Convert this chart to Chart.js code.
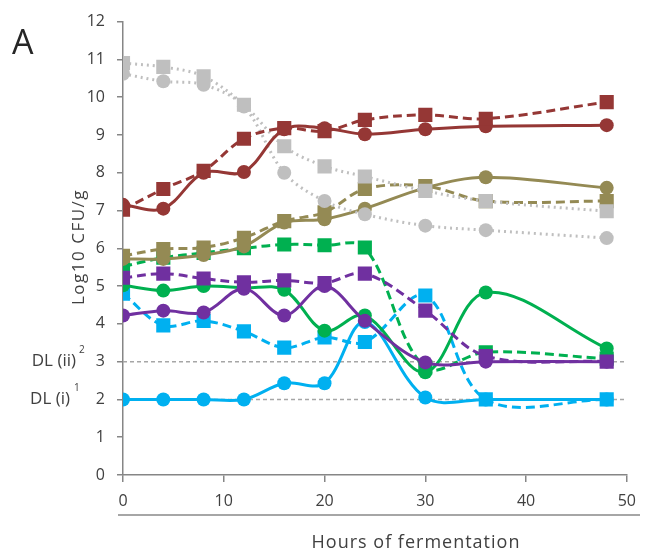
<!DOCTYPE html>
<html>
<head>
<meta charset="utf-8">
<script src="https://cdn.jsdelivr.net/npm/chart.js@4/dist/chart.umd.min.js"></script>
<style>
  html, body { margin: 0; padding: 0; background: #fff; }
  #wrap { width: 646px; height: 557px; position: relative; }
</style>
</head>
<body>
<div id="wrap"><canvas id="grafico" width="646" height="557"></canvas></div>
<script>
// horas de fermentação
const hours = [0, 4, 8, 12, 16, 20, 24, 30, 36, 48];

// Log10 CFU/g por série (círculo = linha cheia, quadrado = tracejada)
const redCircle    = [7.15, 7.05, 8.0, 8.02, 9.15, 9.18, 9.02, 9.15, 9.23, 9.26];
const redSquare    = [7.02, 7.57, 8.05, 8.9, 9.18, 9.1, 9.4, 9.53, 9.43, 9.87];
const grayCircle   = [10.62, 10.42, 10.33, 9.75, 8.0, 7.25, 6.9, 6.6, 6.48, 6.27];
const graySquare   = [10.9, 10.8, 10.55, 9.8, 8.7, 8.17, 7.9, 7.52, 7.25, 6.98];
const oliveCircle  = [5.72, 5.72, 5.82, 6.05, 6.68, 6.77, 7.05, 7.6, 7.88, 7.6];
const oliveSquare  = [5.8, 5.98, 6.02, 6.28, 6.72, 6.95, 7.57, 7.65, 7.25, 7.25];
const greenCircle  = [5.02, 4.88, 5.0, 4.95, 4.9, 3.82, 4.22, 2.72, 4.83, 3.35];
const greenSquare  = [5.52, 5.75, 5.88, 6.0, 6.1, 6.08, 6.02, 2.85, 3.25, 3.08];
const purpleCircle = [4.22, 4.35, 4.3, 4.93, 4.22, 5.0, 4.08, 2.98, 3.0, 3.0];
const purpleSquare = [5.22, 5.33, 5.2, 5.1, 5.15, 5.08, 5.33, 4.35, 3.15, 3.0];
const blueCircle   = [2.0, 2.0, 2.0, 2.0, 2.43, 2.43, 4.05, 2.05, 2.0, 2.0];
const blueSquare   = [4.8, 3.96, 4.08, 3.8, 3.37, 3.64, 3.52, 4.75, 2.0, 2.0];

// limites de detecção
const dlHours = [0, 50];
const dl1 = [2, 2];
const dl2 = [3, 3];

const xTicks = [0, 10, 20, 30, 40, 50];
const yTicks = [0, 1, 2, 3, 4, 5, 6, 7, 8, 9, 10, 11, 12];

function pontos(xs, ys) {
    return xs.map((x, i) => ({ x: x, y: ys[i] }));
}

function serie(dados, cor, forma, tipo, ordem) {
    let dash = [];
    if (tipo === 'dash') dash = [9, 5];
    if (tipo === 'dot') dash = [2, 4];
    return {
        data: pontos(hours, dados),
        borderColor: cor,
        backgroundColor: cor,
        borderWidth: 3,
        borderDash: dash,
        pointStyle: forma,
        pointRadius: forma === 'rect' ? 10 : 7,
        pointBorderWidth: 0,
        tension: 0.35,
        order: ordem
    };
}

function linhaDL(dados) {
    return {
        data: pontos(dlHours, dados),
        borderColor: '#a6a6a6',
        borderWidth: 1.5,
        borderDash: [4, 3],
        pointRadius: 0,
        tension: 0,
        order: 20
    };
}

// textos extras (rótulo A, DL, títulos dos eixos)
const textosExtras = {
    id: 'textosExtras',
    afterDraw(chart) {
        const ctx = chart.ctx;
        ctx.save();
        ctx.fillStyle = '#262626';
        ctx.font = '34px "Open Sans"';
        ctx.textBaseline = 'middle';
        ctx.textAlign = 'left';
        ctx.fillText('A', 12, 44);

        const y = chart.scales.y;
        ctx.fillStyle = '#404040';
        ctx.font = '17px "Open Sans"';
        ctx.textAlign = 'right';
        ctx.fillText('DL (ii)', 76, y.getPixelForValue(3));
        ctx.fillText('DL (i)', 70, y.getPixelForValue(2));
        ctx.font = '10px "Open Sans"';
        ctx.textAlign = 'left';
        ctx.fillText('2', 79, y.getPixelForValue(3) - 11);
        ctx.fillText('1', 74, y.getPixelForValue(2) - 11);

        // título eixo y
        ctx.save();
        ctx.translate(79, 247);
        ctx.rotate(-Math.PI / 2);
        ctx.textAlign = 'center';
        ctx.font = '17px "Open Sans"';
        ctx.letterSpacing = '1.5px';
        ctx.fillStyle = '#404040';
        ctx.fillText('Log10 CFU/g', 0, 0);
        ctx.restore();

        // linha abaixo dos rótulos do eixo x
        ctx.strokeStyle = '#a6a6a6';
        ctx.lineWidth = 2;
        ctx.beginPath();
        ctx.moveTo(118, 515);
        ctx.lineTo(640, 515);
        ctx.stroke();

        ctx.fillStyle = '#404040';
        ctx.font = '18px "Open Sans"';
        ctx.letterSpacing = '1px';
        ctx.textAlign = 'center';
        ctx.fillText('Hours of fermentation', 416, 543);
        ctx.restore();
    }
};

const ctx = document.getElementById('grafico').getContext('2d');
new Chart(ctx, {
    type: 'line',
    data: {
        datasets: [
            linhaDL(dl1),
            linhaDL(dl2),
            serie(blueCircle, '#00B0F0', 'circle', 'solid', 12),
            serie(blueSquare, '#00B0F0', 'rect', 'dash', 11),
            serie(greenCircle, '#00B050', 'circle', 'solid', 10),
            serie(greenSquare, '#00B050', 'rect', 'dash', 9),
            serie(purpleCircle, '#7030A0', 'circle', 'solid', 8),
            serie(purpleSquare, '#7030A0', 'rect', 'dash', 7),
            serie(oliveCircle, '#948A54', 'circle', 'solid', 6),
            serie(oliveSquare, '#948A54', 'rect', 'dash', 5),
            serie(grayCircle, '#BFBFBF', 'circle', 'dot', 4),
            serie(graySquare, '#BFBFBF', 'rect', 'dot', 3),
            serie(redCircle, '#953735', 'circle', 'solid', 2),
            serie(redSquare, '#953735', 'rect', 'dash', 1)
        ]
    },
    options: {
        responsive: false,
        animation: false,
        layout: { padding: { top: 20, right: 19, left: 0, bottom: 0 } },
        plugins: { legend: { display: false }, tooltip: { enabled: false } },
        scales: {
            x: {
                type: 'linear',
                min: 0,
                max: 50,
                afterBuildTicks: (s) => { s.ticks = xTicks.map(v => ({ value: v })); },
                afterFit: (s) => { s.height = 82; },
                grid: { drawOnChartArea: false, drawTicks: true, tickLength: 7, color: '#868686', lineWidth: 1.5 },
                border: { color: '#868686', width: 1.5 },
                ticks: { color: '#404040', font: { family: 'Open Sans', size: 16 }, padding: 10, maxRotation: 0 }
            },
            y: {
                min: 0,
                max: 12,
                afterBuildTicks: (s) => { s.ticks = yTicks.map(v => ({ value: v })); },
                afterFit: (s) => { s.width = 123; },
                grid: { drawOnChartArea: false, drawTicks: true, tickLength: 6, color: '#868686', lineWidth: 1.5 },
                border: { color: '#868686', width: 1.5 },
                ticks: { color: '#404040', font: { family: 'Open Sans', size: 16 }, padding: 12 }
            }
        }
    },
    plugins: [textosExtras]
});
</script>
</body>
</html>
